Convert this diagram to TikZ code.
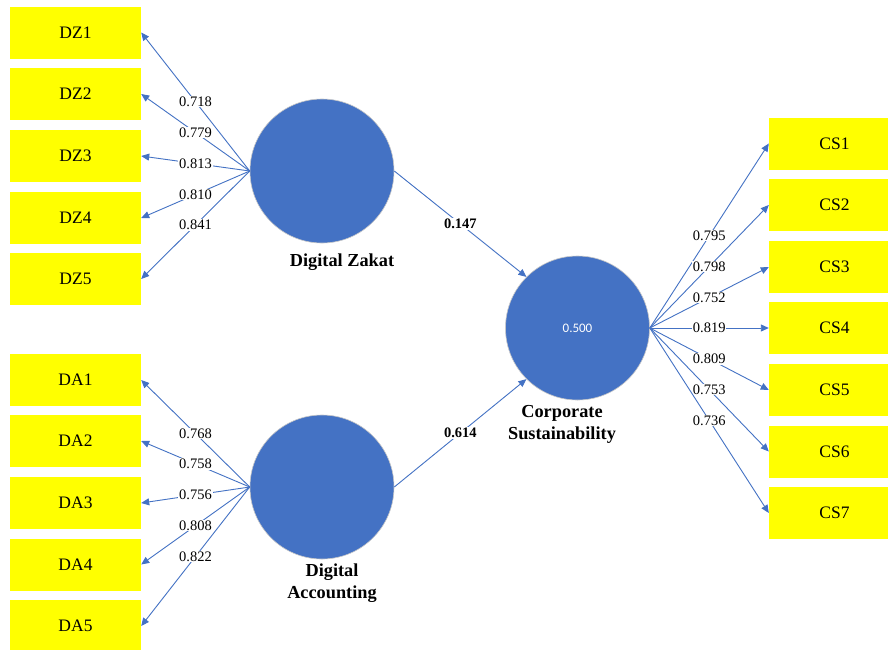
\documentclass[tikz,border=0pt]{standalone}
\usepackage{fontspec}
\setmainfont{Liberation Serif}
\newfontfamily\calib{Carlito}
\usetikzlibrary{arrows.meta}
\definecolor{pblue}{HTML}{4472C4}
\definecolor{pyellow}{HTML}{FFFF00}
\begin{document}
\begin{tikzpicture}[x=1pt,y=-1pt,
  ind/.style={rectangle, fill=pyellow, minimum width=131pt, minimum height=52pt, inner sep=0pt, font=\fontsize{17.5}{20}\selectfont},
  lat/.style={circle, fill=pblue, draw=black!22, line width=0.6pt, minimum size=144pt, inner sep=0pt},
  ld/.style={draw=pblue, line width=0.9pt, -{Triangle[length=8pt,width=7pt]}},
  lbl/.style={fill=white, inner sep=0.8pt, font=\fontsize{14.5}{16}\selectfont},
  blbl/.style={fill=white, inner sep=0.8pt, font=\bfseries\fontsize{14.5}{16}\selectfont},
  lname/.style={font=\bfseries\fontsize{18.3}{22}\selectfont, align=center}]
\clip (0,0) rectangle (888,649);
\fill[white] (0,0) rectangle (888,649);
% indicator boxes
\node[ind] (dz1) at (75.5,32.5) {DZ1};
\node[ind] (dz2) at (75.5,94) {DZ2};
\node[ind] (dz3) at (75.5,156) {DZ3};
\node[ind] (dz4) at (75.5,218) {DZ4};
\node[ind] (dz5) at (75.5,279) {DZ5};
\node[ind] (da1) at (75.5,380) {DA1};
\node[ind] (da2) at (75.5,441) {DA2};
\node[ind] (da3) at (75.5,503) {DA3};
\node[ind] (da4) at (75.5,564.5) {DA4};
\node[ind] (da5) at (75.5,626) {DA5};
\node[ind] (cs1) at (834.5,143.5) {CS1};
\node[ind] (cs2) at (834.5,205) {CS2};
\node[ind] (cs3) at (834.5,267) {CS3};
\node[ind] (cs4) at (834.5,328) {CS4};
\node[ind] (cs5) at (834.5,390) {CS5};
\node[ind] (cs6) at (834.5,451.5) {CS6};
\node[ind] (cs7) at (834.5,513) {CS7};
% latent variables
\node[lat] (dz) at (322,171) {};
\node[lat] (da) at (322,487) {};
\node[lat] (cs) at (577.5,328) {\calib\fontsize{13}{15}\selectfont\color{white}0.500};
\node[lname] (dzn) at (342,262) {Digital Zakat};
\node[lname] (dan) at (332,583) {Digital\\Accounting};
\node[lname] (csn) at (562,424) {Corporate\\Sustainability};
% outer loadings
\draw[ld] (dz.west) -- node[lbl]{0.718} (dz1.east);
\draw[ld] (dz.west) -- node[lbl]{0.779} (dz2.east);
\draw[ld] (dz.west) -- node[lbl]{0.813} (dz3.east);
\draw[ld] (dz.west) -- node[lbl]{0.810} (dz4.east);
\draw[ld] (dz.west) -- node[lbl]{0.841} (dz5.east);
\draw[ld] (da.west) -- node[lbl]{0.768} (da1.east);
\draw[ld] (da.west) -- node[lbl]{0.758} (da2.east);
\draw[ld] (da.west) -- node[lbl]{0.756} (da3.east);
\draw[ld] (da.west) -- node[lbl]{0.808} (da4.east);
\draw[ld] (da.west) -- node[lbl]{0.822} (da5.east);
\draw[ld] (cs.east) -- node[lbl]{0.795} (cs1.west);
\draw[ld] (cs.east) -- node[lbl]{0.798} (cs2.west);
\draw[ld] (cs.east) -- node[lbl]{0.752} (cs3.west);
\draw[ld] (cs.east) -- node[lbl]{0.819} (cs4.west);
\draw[ld] (cs.east) -- node[lbl]{0.809} (cs5.west);
\draw[ld] (cs.east) -- node[lbl]{0.753} (cs6.west);
\draw[ld] (cs.east) -- node[lbl]{0.736} (cs7.west);
% path coefficients
\draw[ld] (dz.east) -- node[blbl]{0.147} (cs.135);
\draw[ld] (da.east) -- node[blbl]{0.614} (cs.225);
\end{tikzpicture}
\end{document}
